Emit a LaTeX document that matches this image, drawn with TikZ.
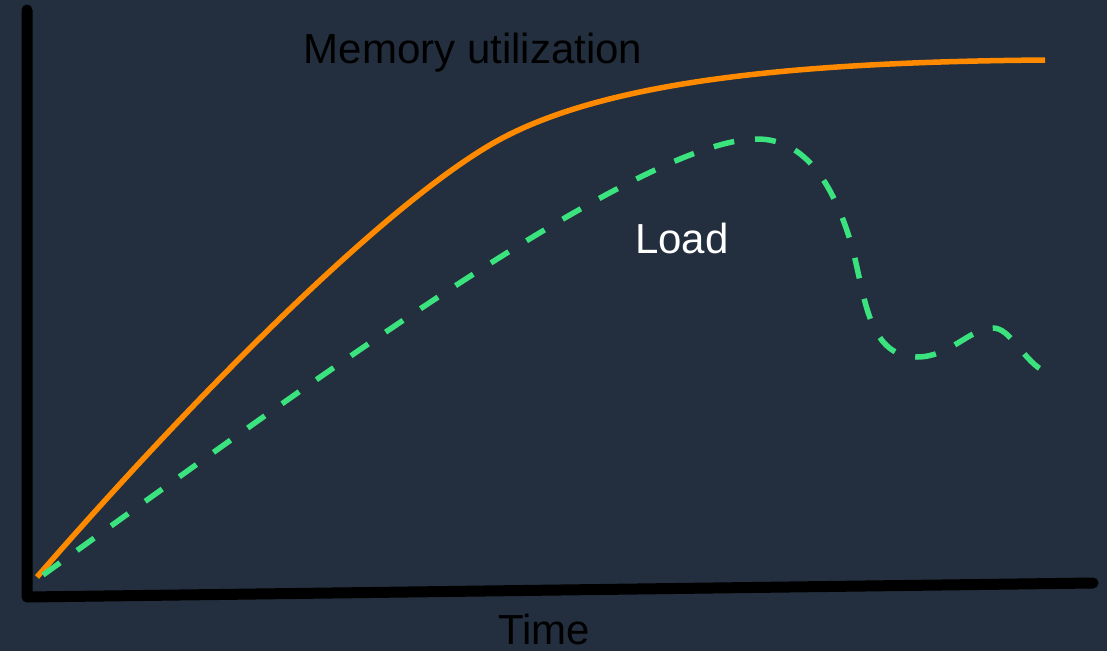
\documentclass[tikz,border=0pt]{standalone}
\usepackage{fontspec}
\setmainfont{Liberation Sans}
\definecolor{bgnavy}{HTML}{232F3E}
\definecolor{memorange}{HTML}{FF8A00}
\definecolor{loadgreen}{HTML}{3BE37F}
\tikzset{
  axisline/.style={line width=11pt, black, line cap=round, line join=round},
  memcurve/.style={line width=5.5pt, memorange},
  loadcurve/.style={line width=5.5pt, loadgreen, dash pattern=on 21pt off 21pt},
  biglabel/.style={font=\fontsize{42}{50}\selectfont, anchor=base, inner sep=0pt},
}
\begin{document}
\begin{tikzpicture}[x=1pt, y=-1pt]
  % canvas
  \path[fill=bgnavy, use as bounding box] (0,0) rectangle (1107,651);

  % axes
  \coordinate (ytop) at (27,10);
  \coordinate (origin) at (27,597);
  \coordinate (xend) at (1093,583);
  \draw[axisline] (ytop) -- (origin) -- (xend);

  % memory utilization curve
  \draw[memcurve] (37,577) .. controls (200,390) and (380,210) .. (490,145)
                           .. controls (600,80) and (800,62) .. (1045,60);

  % load curve
  \draw[loadcurve] (43,575) .. controls (300,390) and (640,139) .. (757,139)
                            .. controls (800,139) and (830,175) .. (850,240)
                            .. controls (865,289) and (865,357) .. (917,357)
                            .. controls (950,357) and (970,328) .. (993,328)
                            .. controls (1010,328) and (1022,358) .. (1042,370);

  % labels
  \node[biglabel, black] (memlabel) at (473,63) {Memory utilization};
  \node[biglabel, white] (loadlabel) at (682,253) {Load};
  \node[biglabel, black] (timelabel) at (544,644) {Time};
\end{tikzpicture}
\end{document}
